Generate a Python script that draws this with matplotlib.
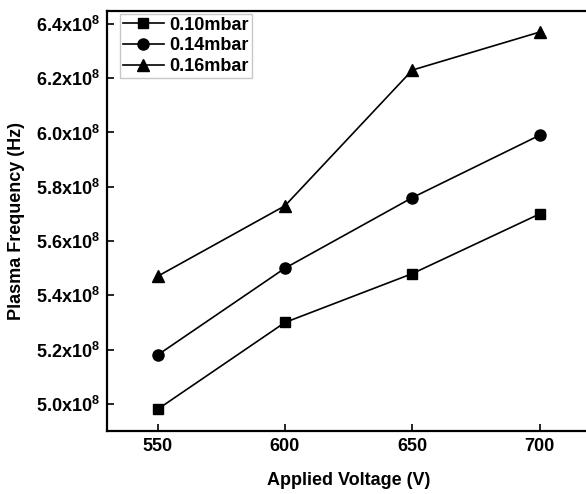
import matplotlib
matplotlib.use('Agg')
import matplotlib.pyplot as plt
from matplotlib.ticker import FixedLocator, FuncFormatter

plt.rcParams['font.family'] = ['Liberation Sans', 'DejaVu Sans']
plt.rcParams['font.weight'] = 'bold'
plt.rcParams['mathtext.default'] = 'regular'

# data
voltage = [550, 600, 650, 700]
freq_010 = [4.98, 5.30, 5.48, 5.70]
freq_014 = [5.18, 5.50, 5.76, 5.99]
freq_016 = [5.47, 5.73, 6.23, 6.37]
labels = ['0.10mbar', '0.14mbar', '0.16mbar']
y_ticks = [5.0, 5.2, 5.4, 5.6, 5.8, 6.0, 6.2, 6.4]

fig = plt.figure(figsize=(5.86, 4.94), dpi=100)
ax = fig.add_axes([0.182, 0.1275, 0.826, 0.851])

ax.plot(voltage, freq_010, 'k-s', markersize=7.5, linewidth=1.2, label=labels[0])
ax.plot(voltage, freq_014, 'k-o', markersize=8, linewidth=1.2, label=labels[1])
ax.plot(voltage, freq_016, 'k-^', markersize=9, linewidth=1.2, label=labels[2])

ax.set_xlim(530, 720)
ax.set_ylim(4.90, 6.449)
ax.set_xticks(voltage)
ax.yaxis.set_major_locator(FixedLocator(y_ticks))
ax.yaxis.set_major_formatter(FuncFormatter(lambda v, p: '%.1fx10$^{8}$' % v))

for s in ax.spines.values():
    s.set_linewidth(1.6)
ax.spines['right'].set_visible(False)
ax.tick_params(direction='in', length=5, width=1.2, labelsize=13, pad=5)

ax.set_xlabel('Applied Voltage (V)', fontsize=13, fontweight='bold', labelpad=12)
ax.set_ylabel('Plasma Frequency (Hz)', fontsize=13, fontweight='bold', labelpad=8)

leg = ax.legend(loc='upper left', bbox_to_anchor=(0.0275, 0.992), borderaxespad=0,
                fontsize=13, frameon=True, fancybox=False,
                handlelength=2.3, handletextpad=0.3, borderpad=0.15,
                labelspacing=0.2)
leg.get_frame().set_edgecolor('#bbbbbb')
leg.get_frame().set_linewidth(1.0)

fig.savefig('out.png', dpi=100)
